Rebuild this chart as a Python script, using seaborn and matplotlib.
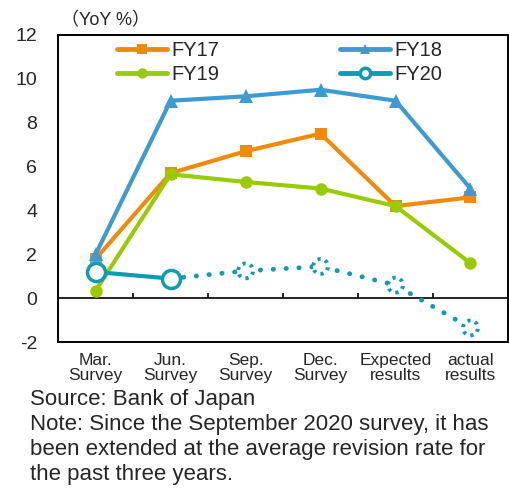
import numpy as np
import pandas as pd
from matplotlib import pyplot as plt
import seaborn as sns

# survey points on the x axis
surveys = ["Mar.\nSurvey", "Jun.\nSurvey", "Sep.\nSurvey", "Dec.\nSurvey",
           "Expected\nresults", "actual\nresults"]

fy17 = [1.8, 5.7, 6.7, 7.5, 4.2, 4.6]
fy18 = [2.0, 9.0, 9.2, 9.5, 9.0, 5.0]
fy19 = [0.35, 5.65, 5.3, 5.0, 4.2, 1.6]
fy20_actual = [1.2, 0.9]               # Mar, Jun
fy20_extended = [0.9, 1.25, 1.45, 0.6, -1.35]  # Jun -> actual (dotted)

yticks = [-2, 0, 2, 4, 6, 8, 10, 12]

orange = "#F08A0A"
blue = "#3C9BD2"
green = "#99CC00"
teal = "#0F9BB4"

sns.set_style("white")
plt.rcParams['font.family'] = ['Liberation Sans', 'Noto Sans CJK JP', 'DejaVu Sans']

fig = plt.figure(figsize=(5.10, 4.91), dpi=100)
ax = fig.add_axes([0.114, 0.303, 0.882, 0.626])

x = np.arange(len(surveys))
df = pd.DataFrame({"x": x, "FY17": fy17, "FY18": fy18, "FY19": fy19})

sns.lineplot(data=df, x="x", y="FY17", ax=ax, color=orange, lw=3,
             marker="s", markersize=9, markeredgewidth=0, label="FY17")
sns.lineplot(data=df, x="x", y="FY18", ax=ax, color=blue, lw=3,
             marker="^", markersize=10, markeredgewidth=0, label="FY18")
sns.lineplot(data=df, x="x", y="FY19", ax=ax, color=green, lw=3,
             marker="o", markersize=9, markeredgewidth=0, label="FY19")

# FY20 extension, dotted
ext_x = x[1:]
ax.plot(ext_x, fy20_extended, color=teal, lw=3.5, linestyle=(0, (0.05, 2.6)),
        dash_capstyle="round", zorder=3)
ax.scatter(ext_x[1:], fy20_extended[1:], s=115, facecolors="white",
           edgecolors=teal, linewidths=2.8, linestyle=(0, (0.8, 1.2)), zorder=4)

sns.lineplot(x=x[:2], y=fy20_actual, ax=ax, color=teal, lw=3,
             marker="o", markersize=13, markerfacecolor="white",
             markeredgecolor=teal, markeredgewidth=2.5, label="FY20", zorder=5)

ax.axhline(0, color="black", lw=1.2, zorder=1)
ax.vlines(np.arange(0.5, 5, 1), 0, 0.25, color="black", lw=1.2)

ax.set_xlim(-0.5, 5.5)
ax.set_ylim(-2, 12)
ax.set_yticks(yticks)
ax.set_yticklabels([str(t) for t in yticks], fontsize=14)
ax.set_xticks(x)
ax.set_xticklabels(surveys, fontsize=12.5, linespacing=1.0)
ax.tick_params(axis="x", length=0, pad=8)
ax.tick_params(axis="y", length=0, pad=15)
ax.set_xlabel("")
ax.set_ylabel("")
for s in ax.spines.values():
    s.set_color("black")
    s.set_linewidth(1.4)

handles, labels = ax.get_legend_handles_labels()
order = [labels.index(l) for l in ["FY17", "FY19", "FY18", "FY20"]]
leg = ax.legend([handles[i] for i in order], [labels[i] for i in order],
                ncol=2, frameon=False, fontsize=14.5, loc="upper left",
                bbox_to_anchor=(0.09, 1.04), columnspacing=6.0, handlelength=2.5,
                handletextpad=0.2, labelspacing=0.25)
for h in leg.legend_handles:
    h.set_markersize(7.5)
    h.set_linewidth(3.5)

fig.text(0.12, 0.957, "（YoY %）", fontsize=13, va="center", ha="left")

fig.text(0.058, 0.208, "Source: Bank of Japan\n"
         "Note: Since the September 2020 survey, it has\n"
         "been extended at the average revision rate for\n"
         "the past three years.",
         fontsize=16, va="top", ha="left", linespacing=1.26)

fig.savefig("out.png", dpi=100)
